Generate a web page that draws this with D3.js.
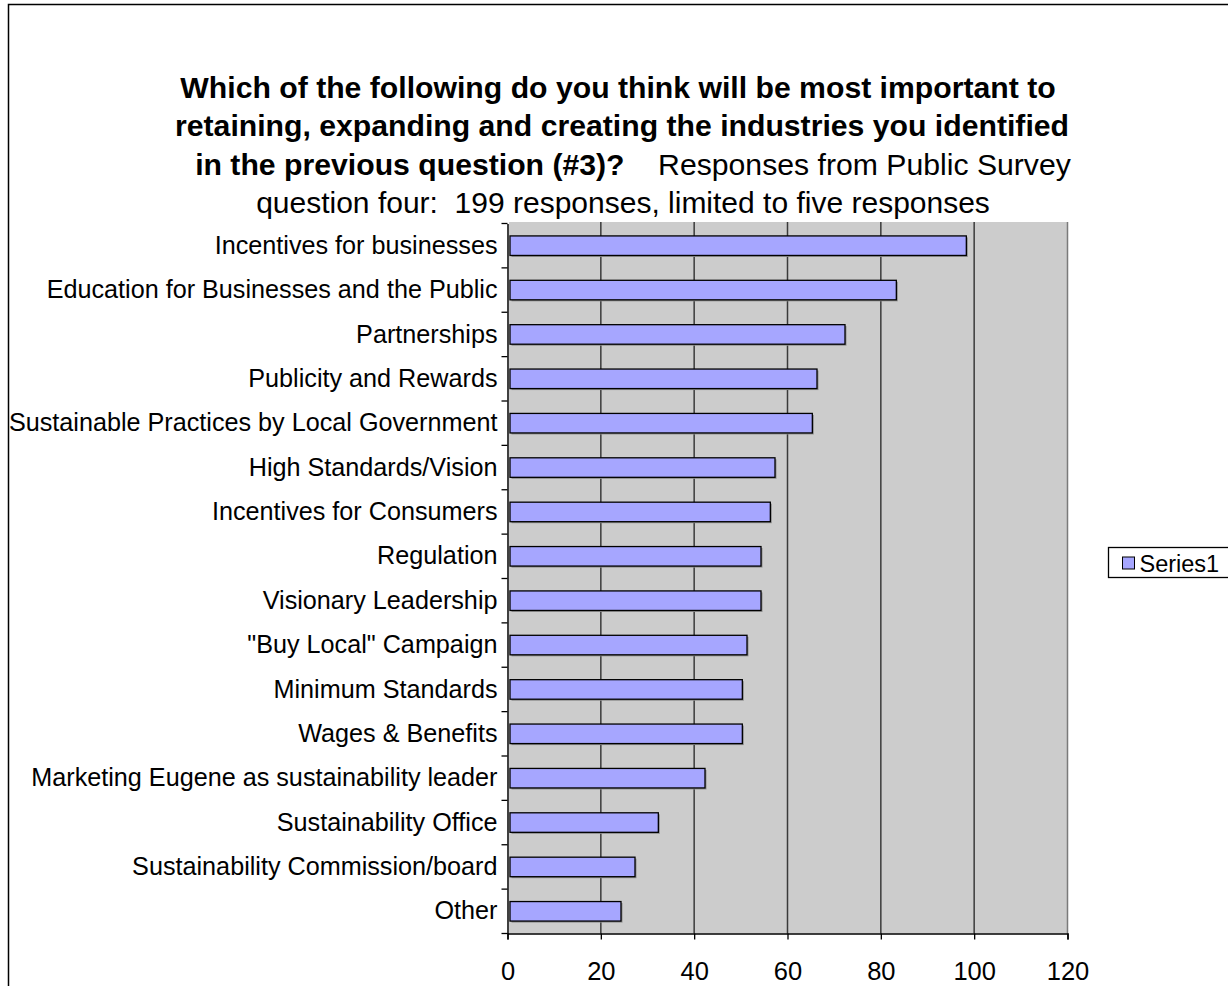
<!DOCTYPE html>
<html>
<head>
<meta charset="utf-8">
<script src="https://cdn.jsdelivr.net/npm/d3@7"></script>
<style>
  body { margin: 0; background: #fff; }
  svg text { font-family: "Liberation Sans", Arial, sans-serif; fill: #000; }
</style>
</head>
<body>
<svg></svg>
<script>
// Data
const categories = [
    'Incentives for businesses',
    'Education for Businesses and the Public',
    'Partnerships',
    'Publicity and Rewards',
    'Sustainable Practices by Local Government',
    'High Standards/Vision',
    'Incentives for Consumers',
    'Regulation',
    'Visionary Leadership',
    '"Buy Local" Campaign',
    'Minimum Standards',
    'Wages & Benefits',
    'Marketing Eugene as sustainability leader',
    'Sustainability Office',
    'Sustainability Commission/board',
    'Other'
]
const values = [98, 83, 72, 66, 65, 57, 56, 54, 54, 51, 50, 50, 42, 32, 27, 24]
const xTicks = [0, 20, 40, 60, 80, 100, 120]
const seriesName = 'Series1'

const titleBold = [
    'Which of the following do you think will be most important to',
    'retaining, expanding and creating the industries you identified',
    'in the previous question (#3)?'
]
const titleNormal = ['    Responses from Public Survey', 'question four:  199 responses, limited to five responses']

const width = 1228
const height = 986

const svg = d3.select('svg')
                .attr('width', width)
                .attr('height', height)

// Outer chart border
svg.append('rect')
    .attr('x', 8.5).attr('y', 4.5)
    .attr('width', width + 20).attr('height', height + 20)
    .attr('fill', '#fff')
    .attr('stroke', '#000')
    .attr('stroke-width', 1.5)

let xScale, yScale

let buildScales = () => {
    xScale = d3.scaleLinear()
                .domain([0, 120])
                .range([507.5, 1067.5])

    yScale = d3.scaleBand()
                .domain(categories)
                .range([223.5, 933.5])
                .paddingInner(0.56)
                .paddingOuter(0.28)
}

// Title, 4 lines, third one mixes bold and normal
let drawTitle = () => {
    const centers = [618, 622, 633, 623]
    const lineH = 38.3
    const top = 98

    titleBold.forEach((line, i) => {
        const t = svg.append('text')
                    .attr('x', centers[i])
                    .attr('y', top + i * lineH)
                    .attr('text-anchor', 'middle')
                    .style('font-size', '30.2px')
                    .style('white-space', 'pre')
        t.append('tspan')
            .style('font-weight', 'bold')
            .text(line)
        if (i == 2) {
            t.append('tspan').text(titleNormal[0])
        }
    })
    svg.append('text')
        .attr('x', centers[3])
        .attr('y', top + 3 * lineH)
        .attr('text-anchor', 'middle')
        .style('font-size', '30px')
        .style('white-space', 'pre')
        .text(titleNormal[1])
}

let drawPlot = () => {
    const x0 = xScale(0), x1 = xScale(120)
    const y0 = 222, y1 = 933.5

    svg.append('rect')
        .attr('x', x0 + 1.5).attr('y', y0)
        .attr('width', x1 - x0 - 1.5).attr('height', y1 - y0)
        .attr('fill', '#cccccc')

    // gridlines
    svg.selectAll('.grid')
        .data(xTicks.slice(1, -1))
        .enter()
        .append('line')
        .attr('class', 'grid')
        .attr('x1', d => xScale(d)).attr('x2', d => xScale(d))
        .attr('y1', y0).attr('y2', y1)
        .attr('stroke', '#3a3a3a')
        .attr('stroke-width', 1.5)

    svg.append('line')
        .attr('x1', x1).attr('x2', x1)
        .attr('y1', y0).attr('y2', y1)
        .attr('stroke', '#7a7a7a')
        .attr('stroke-width', 1.5)
}

let drawBars = () => {
    const bh = yScale.bandwidth()
    // faint shadow
    svg.selectAll('.shadow')
        .data(values)
        .enter()
        .append('rect')
        .attr('class', 'shadow')
        .attr('x', xScale(0) + 4)
        .attr('y', (d, i) => yScale(categories[i]) + 1.5)
        .attr('width', d => xScale(d) - xScale(0) - 1)
        .attr('height', bh)
        .attr('fill', '#8c8c8c')

    svg.selectAll('.bar')
        .data(values)
        .enter()
        .append('rect')
        .attr('class', 'bar')
        .attr('x', xScale(0) + 2.5)
        .attr('y', (d, i) => yScale(categories[i]))
        .attr('width', d => xScale(d) - xScale(0) - 1)
        .attr('height', bh)
        .attr('fill', '#a6a6ff')
        .attr('stroke', '#000')
        .attr('stroke-width', 1.3)
}

let buildAxes = () => {
    // x axis
    const xAxis = d3.axisBottom(xScale)
                    .tickValues(xTicks)
                    .tickSize(6)
                    .tickPadding(22)
    const gx = svg.append('g')
                .attr('transform', 'translate(0, 933.5)')
                .call(xAxis)
    gx.select('.domain').attr('stroke', '#000').attr('stroke-width', 1.5)
    gx.selectAll('.tick line').attr('stroke', '#000').attr('stroke-width', 1.3)
    gx.selectAll('.tick text')
        .style('font-size', '25.5px')
        .style('font-family', '"Liberation Sans", Arial, sans-serif')

    // y axis: labels only, ticks between categories
    const yAxis = d3.axisLeft(yScale).tickSize(0).tickPadding(10)
    const gy = svg.append('g')
                .attr('transform', 'translate(' + xScale(0) + ', 0)')
                .call(yAxis)
    gy.select('.domain').attr('stroke', '#000').attr('stroke-width', 1.5)
    gy.selectAll('.tick text')
        .style('font-size', '25.2px')
        .style('font-family', '"Liberation Sans", Arial, sans-serif')

    const step = yScale.step()
    const bounds = d3.range(categories.length + 1).map(i => yScale.range()[0] + i * step)
    svg.selectAll('.ytick')
        .data(bounds)
        .enter()
        .append('line')
        .attr('x1', xScale(0) - 6).attr('x2', xScale(0))
        .attr('y1', d => d).attr('y2', d => d)
        .attr('stroke', '#000')
        .attr('stroke-width', 1.3)
}

let drawLegend = () => {
    const g = svg.append('g').attr('transform', 'translate(1108.5, 547.5)')
    g.append('rect')
        .attr('width', 130).attr('height', 30)
        .attr('fill', '#fff')
        .attr('stroke', '#000')
        .attr('stroke-width', 1.3)
    g.append('rect')
        .attr('x', 14).attr('y', 9.5)
        .attr('width', 12).attr('height', 12)
        .attr('fill', '#a6a6ff')
        .attr('stroke', '#000')
        .attr('stroke-width', 1)
    g.append('text')
        .attr('x', 31).attr('y', 24)
        .style('font-size', '23.5px')
        .text(seriesName)
}

buildScales()
drawTitle()
drawPlot()
drawBars()
buildAxes()
drawLegend()
</script>
</body>
</html>
